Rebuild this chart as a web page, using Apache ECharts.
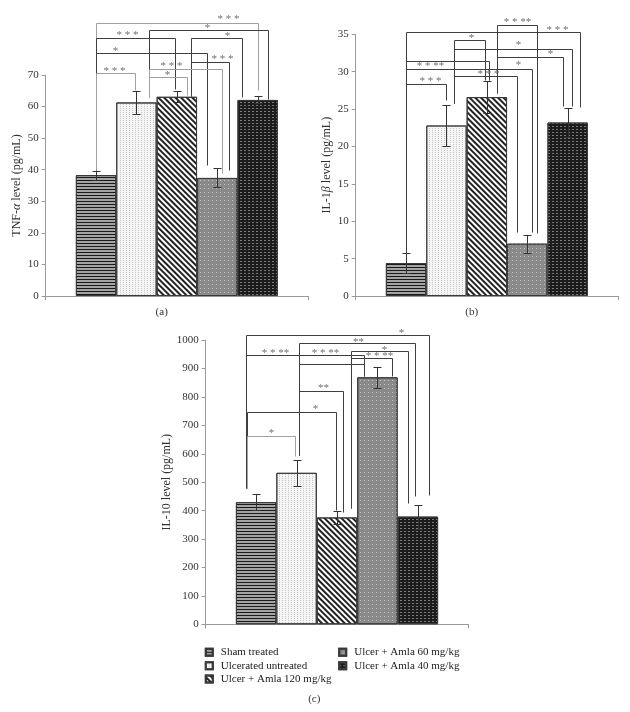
<!DOCTYPE html>
<html><head><meta charset="utf-8">
<script src="https://cdn.jsdelivr.net/npm/echarts@6/dist/echarts.min.js"></script>
<style>html,body{margin:0;padding:0;background:#fff}#c{width:630px;height:712px}</style>
</head><body><div id="c"></div>
<script>
// ---------- data ----------
const groups = ['Sham treated', 'Ulcerated untreated', 'Ulcer + Amla 120 mg/kg', 'Ulcer + Amla 60 mg/kg', 'Ulcer + Amla 40 mg/kg'];

const tnfMean = [38.3, 61.3, 63.1, 37.4, 62.1];
const tnfErr  = [1.4, 3.6, 1.8, 3.0, 1.1];
const il1Mean = [4.4, 22.8, 26.6, 7.0, 23.2];
const il1Err  = [1.3, 2.8, 2.1, 1.2, 2.0];
const il10Mean = [430, 533, 376, 869, 379];
const il10Err  = [27, 45, 24, 38, 42];

// significance brackets: [fromBar, toBar, level, leftDropTo, rightDropTo, labelAtBar, labelAtValue]
const tnfBrackets = [
  [0, 4, 86.6, 39.9, 65.2, 3.27, 88.3],
  [1.31, 4.26, 84.3, 63.0, 62.5, 2.74, 85.5],
  [0, 1.96, 81.6, 39.9, 65.5, 0.77, 83.2],
  [2.36, 3.61, 81.6, 63.5, 63.0, 3.24, 83.0],
  [0, 2.74, 76.9, 39.9, 41.5, 0.47, 78.2],
  [2.36, 3.29, 74.2, 63.5, 39.9, 3.11, 75.8],
  [1.31, 3.11, 71.8, 63.0, 38.9, 1.86, 73.4],
  [0, 0.96, 70.5, 39.9, 65.3, 0.44, 71.8],
  [1.31, 2.25, 69.5, 63.0, 63.7, 1.76, 70.5]
];
const tnfStars = ['* * *', '*', '* * *', '*', '*', '* * *', '* * *', '* * *', '*'];

const il1Brackets = [
  [0, 4.3, 35.3, 5.5, 25.3, 3.73, 35.9],
  [2.24, 3.23, 36.3, 27.2, 8.4, 2.74, 36.9],
  [1.19, 1.95, 34.2, 25.8, 28.9, 1.6, 34.8],
  [1.19, 4.1, 33.1, 25.8, 25.4, 2.77, 33.8],
  [2.24, 3.89, 32.0, 27.2, 25.4, 3.56, 32.6],
  [0, 2.06, 31.4, 5.5, 28.9, 0.59, 31.0],
  [0, 3.11, 30.4, 5.5, 8.6, 2.76, 31.1],
  [1.19, 2.74, 29.4, 25.8, 8.6, 2.02, 30.0],
  [0, 1.0, 28.3, 5.5, 26.2, 0.59, 29.0]
];
const il1Stars = ['* * *', '* * **', '*', '*', '*', '* * **', '*', '* * *', '* * *'];

const il10Brackets = [
  [-0.24, 4.27, 1018, 481, 455, 3.59, 1032],
  [1.07, 3.94, 989, 596, 451, 2.53, 1000],
  [2.35, 3.75, 962, 409, 426, 3.17, 973],
  [-0.24, 2.66, 948, 481, 875, 0.47, 963],
  [2.35, 3.36, 936, 409, 872, 3.03, 951],
  [1.07, 2.67, 916, 596, 875, 1.71, 963],
  [1.07, 2.16, 821, 596, 396, 1.66, 838],
  [-0.22, 1.97, 748, 481, 402, 1.46, 764],
  [-0.22, 0.96, 664, 481, 593, 0.38, 680]
];
const il10Stars = ['*', '**', '*', '* * **', '* * **', '* * **', '**', '*', '*'];

// ---------- styles ----------
const tnfTones  = ['g', 'k', 'k', 'k', 'k', 'k', 'g', 'g', 'g'];
const il1Tones  = ['k', 'k', 'k', 'k', 'k', 'k', 'k', 'k', 'k'];
const il10Tones = ['k', 'k', 'k', 'k', 'k', 'k', 'k', 'k', 'g'];
const SERIF = '"Liberation Serif", "DejaVu Serif", serif';
const GAP = 0.23;

const fills = [
  { color: '#a4a4a4', decal: { symbol: 'rect', symbolSize: 1, color: '#1a1a1a', dashArrayX: [1, 0], dashArrayY: [1, 2] } },
  { color: '#f5f5f5', decal: { symbol: 'rect', symbolSize: 1, color: '#c6c6c6', dashArrayX: [1, 2], dashArrayY: [1, 1] } },
  { color: '#ffffff', decal: { symbol: 'rect', symbolSize: 1, color: '#222222', dashArrayX: [1, 0], dashArrayY: [1.6, 1.6], rotation: Math.PI / 4 } },
  { color: '#8a8a8a', decal: { symbol: 'rect', symbolSize: 1, color: '#c4c4c4', dashArrayX: [1, 3], dashArrayY: [1, 3] } },
  { color: '#1c1c1c', decal: { symbol: 'rect', symbolSize: 1, color: '#7a7a7a', dashArrayX: [2, 2], dashArrayY: [1, 2] } }
];

function geom(api) {
  const c0 = api.coord([0, 0])[0];
  const band = api.size([1, 0])[0];
  const bw = band * (1 - GAP) / 5;
  return {
    X: i => Math.round(c0 + (i - 2) * bw) + 0.5,
    Y: v => Math.round(api.coord([0, v])[1]) + 0.5
  };
}

function errorSeries(p, means, errs) {
  return {
    type: 'custom', xAxisIndex: p, yAxisIndex: p, silent: true, clip: false, z: 5,
    data: means.map(m => [0, m]),
    renderItem: function (params, api) {
      const g = geom(api);
      const i = params.dataIndex;
      const x = g.X(i);
      const yt = g.Y(means[i] + errs[i]), yb = g.Y(means[i] - errs[i]);
      const st = { stroke: '#333', lineWidth: 1, fill: null };
      return { type: 'group', children: [
        { type: 'line', shape: { x1: x, y1: yt, x2: x, y2: yb }, style: st },
        { type: 'line', shape: { x1: x - 4, y1: yt, x2: x + 4, y2: yt }, style: st },
        { type: 'line', shape: { x1: x - 4, y1: yb, x2: x + 4, y2: yb }, style: st }
      ]};
    }
  };
}

function bracketSeries(p, list, stars, tones) {
  return {
    type: 'custom', xAxisIndex: p, yAxisIndex: p, silent: true, clip: false, z: 6,
    data: list.map(b => [0, b[2]]),
    renderItem: function (params, api) {
      const g = geom(api);
      const i = params.dataIndex;
      const b = list[i];
      const col = tones[i] === 'g' ? '#a0a0a0' : '#3f3f3f';
      return { type: 'group', children: [
        { type: 'polyline',
          shape: { points: [[g.X(b[0]), g.Y(b[3])], [g.X(b[0]), g.Y(b[2])], [g.X(b[1]), g.Y(b[2])], [g.X(b[1]), g.Y(b[4])]] },
          style: { stroke: col, lineWidth: 1, fill: null } },
        { type: 'text', x: g.X(b[5]), y: g.Y(b[6]) + 2,
          style: { text: stars[i], fill: '#707070', fontSize: 11, fontFamily: SERIF, align: 'center', verticalAlign: 'middle' } }
      ]};
    }
  };
}

const panels = [
  { means: tnfMean, errs: tnfErr, br: tnfBrackets, st: tnfStars, tn: tnfTones },
  { means: il1Mean, errs: il1Err, br: il1Brackets, st: il1Stars, tn: il1Tones },
  { means: il10Mean, errs: il10Err, br: il10Brackets, st: il10Stars, tn: il10Tones }
];

const series = [];
panels.forEach((pn, p) => {
  groups.forEach((name, gi) => {
    series.push({
      name: name, type: 'bar', xAxisIndex: p, yAxisIndex: p,
      data: [pn.means[gi]], barGap: '0%', barCategoryGap: (GAP * 100) + '%',
      itemStyle: { color: fills[gi].color, decal: fills[gi].decal, borderColor: '#3a3a3a', borderWidth: 1 },
      silent: true
    });
  });
  series.push(errorSeries(p, pn.means, pn.errs));
  series.push(bracketSeries(p, pn.br, pn.st, pn.tn));
});

const xAxisBase = {
  type: 'category', data: [''],
  axisLine: { lineStyle: { color: '#999' } },
  axisTick: { show: true, length: 4, lineStyle: { color: '#999' } },
  axisLabel: { show: false }
};
function yAxis(grid, max, interval, name, gap) {
  return {
    type: 'value', gridIndex: grid, min: 0, max: max, interval: interval,
    name: name, nameLocation: 'middle', nameGap: gap, nameRotate: 90,
    nameTextStyle: { fontFamily: SERIF, fontSize: 12, color: '#333',
      rich: { i: { fontFamily: SERIF, fontSize: 12, fontStyle: 'italic', color: '#333' } } },
    axisLine: { show: true, lineStyle: { color: '#999' } },
    axisTick: { show: true, length: 4, lineStyle: { color: '#999' } },
    axisLabel: { fontFamily: SERIF, fontSize: 11, color: '#333', margin: 7, formatter: v => String(v) },
    splitLine: { show: false }
  };
}

const legendBase = {
  orient: 'vertical', itemWidth: 7, itemHeight: 7, itemGap: 0, padding: 0,
  selectedMode: false, icon: 'rect',
  textStyle: { fontFamily: SERIF, fontSize: 11, color: '#222', lineHeight: 13.4, padding: [0, 0, 0, 3] }
};
const titleStyle = { fontFamily: SERIF, fontSize: 11, fontWeight: 'normal', color: '#333' };

const chart = echarts.init(document.getElementById('c'), null, { renderer: 'canvas' });
chart.setOption({
  animation: false,
  backgroundColor: '#fff',
  title: [
    { text: '(a)', left: 161.7, top: 307, textAlign: 'center', padding: 0, textStyle: titleStyle },
    { text: '(b)', left: 471.7, top: 307, textAlign: 'center', padding: 0, textStyle: titleStyle },
    { text: '(c)', left: 314.3, top: 694, textAlign: 'center', padding: 0, textStyle: titleStyle }
  ],
  legend: [
    Object.assign({}, legendBase, { data: groups.slice(0, 3), left: 204.8, top: 645.6 }),
    Object.assign({}, legendBase, { data: groups.slice(3), left: 338.2, top: 645.6 })
  ],
  grid: [
    { left: 45.7, top: 75, width: 262.3, height: 221 },
    { left: 355.7, top: 34.3, width: 262.3, height: 261.7 },
    { left: 205.7, top: 340.1, width: 262.6, height: 284.2 }
  ],
  xAxis: [0, 1, 2].map(g => Object.assign({ gridIndex: g }, xAxisBase)),
  yAxis: [
    yAxis(0, 70, 10, 'TNF-{i|α} level (pg/mL)', 23),
    yAxis(1, 35, 5, 'IL-1{i|β} level (pg/mL)', 23),
    yAxis(2, 1000, 100, 'IL-10 level (pg/mL)', 31)
  ],
  series: series
});
</script></body></html>
